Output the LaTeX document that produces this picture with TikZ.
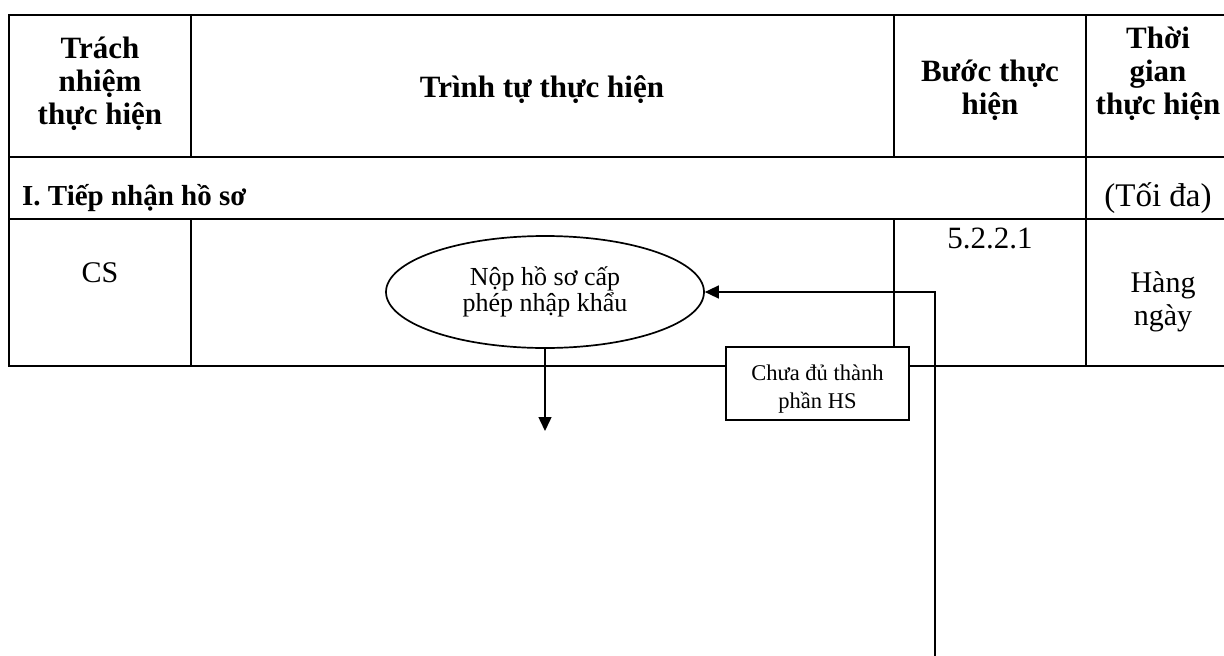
\documentclass[tikz,border=0pt]{standalone}
\usepackage{fontspec}
\setmainfont{Liberation Serif}
\usetikzlibrary{arrows.meta,shapes.geometric}
\begin{document}
\begin{tikzpicture}[x=1pt,y=-1pt,
  grid/.style={line width=1.7pt, line cap=rect},
  hd/.style={font=\fontsize{31}{33}\selectfont\bfseries, align=center, inner sep=0pt},
  cell/.style={font=\fontsize{30}{33}\selectfont, align=center, inner sep=0pt},
  proc/.style={ellipse, draw, line width=1.7pt, minimum width=318pt, minimum height=112pt, inner sep=0pt, font=\fontsize{26}{26}\selectfont, align=center},
  lbl/.style={rectangle, draw, fill=white, line width=1.7pt, minimum width=183pt, minimum height=73pt, inner sep=0pt, font=\fontsize{22.5}{28}\selectfont, align=center},
  flow/.style={line width=1.5pt, -{Triangle[length=14pt,width=13pt]}}
]
\useasboundingbox (0,0) rectangle (1224,656);
\fill[white] (0,0) rectangle (1224,656);
% table grid
\draw[grid] (9,15) -- (1224,15);
\draw[grid] (9,157) -- (1224,157);
\draw[grid] (9,219) -- (1224,219);
\draw[grid] (9,366) -- (1224,366);
\draw[grid] (9,15) -- (9,366);
\draw[grid] (191,15) -- (191,157) (191,219) -- (191,366);
\draw[grid] (894,15) -- (894,157) (894,219) -- (894,366);
\draw[grid] (1086,15) -- (1086,366);
% header texts
\node[hd] (h1) at (100,84) {Trách\\nhiệm\\thực hiện};
\node[hd,anchor=base] (h2) at (542,97) {Trình tự thực hiện};
\node[hd] (h3) at (990,90) {Bước thực\\hiện};
\node[hd] (h4) at (1158,74) {Thời\\gian\\thực hiện};
\node[hd,font=\fontsize{29}{33}\selectfont\bfseries,anchor=base west] (sec) at (22,205) {I. Tiếp nhận hồ sơ};
\node[cell,font=\fontsize{33}{36}\selectfont,anchor=base] (maxt) at (1158,206) {(Tối đa)};
% row texts
\node[cell] (cs) at (100,273) {CS};
\node[cell,font=\fontsize{31}{33}\selectfont] (stp) at (990,238) {5.2.2.1};
\node[cell] (time) at (1163,302) {Hàng\\ngày};
% flow
\node[proc] (ell) at (545,292) {Nộp hồ sơ cấp\\phép nhập khẩu};
\node[lbl] (box) at (817.5,383.5) {\rule{0pt}{27pt}Chưa đủ thành\\phần HS};
\coordinate (down) at (545,431);
\coordinate (fb) at (935,660);
\draw[flow] (ell.south) -- (down);
\draw[flow] (fb) |- (ell.east);
\end{tikzpicture}
\end{document}
